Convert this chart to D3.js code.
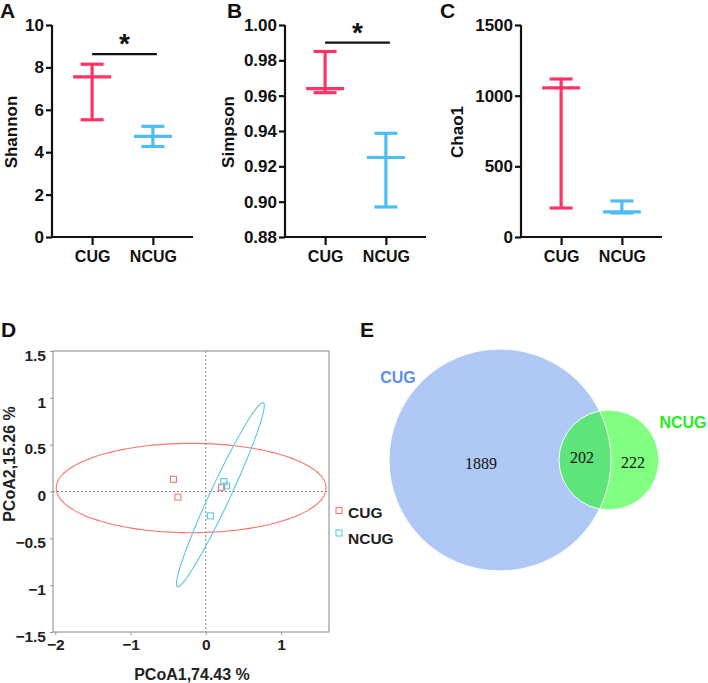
<!DOCTYPE html>
<html>
<head>
<meta charset="utf-8">
<script src="https://cdn.jsdelivr.net/npm/d3@7"></script>
<style>
  html, body { margin: 0; padding: 0; background: #fff; }
  svg { display: block; font-family: "Liberation Sans", Arial, sans-serif; }
</style>
</head>
<body>
<svg id="chart" width="708" height="683"></svg>
<script>
// ---------------- DATA ----------------
const groups = ["CUG", "NCUG"];

// Panel A: Shannon (mean, upper, lower)
const shannonMean  = [7.55, 4.75];
const shannonUpper = [8.15, 5.22];
const shannonLower = [5.53, 4.27];
const shannonTicks = [0, 2, 4, 6, 8, 10];
const shannonSig   = 8.63;

// Panel B: Simpson
const simpsonMean  = [0.964, 0.925];
const simpsonUpper = [0.985, 0.9387];
const simpsonLower = [0.9617, 0.897];
const simpsonTicks = [0.88, 0.90, 0.92, 0.94, 0.96, 0.98, 1.00];
const simpsonSig   = 0.990;

// Panel C: Chao1
const chaoMean  = [1055, 178];
const chaoUpper = [1118, 255];
const chaoLower = [205, 170];
const chaoTicks = [0, 500, 1000, 1500];

// Panel D: PCoA points
const pcoaCUG_x  = [-0.43, -0.37, 0.21];
const pcoaCUG_y  = [0.13, -0.06, 0.045];
const pcoaNCUG_x = [0.24, 0.275, 0.06];
const pcoaNCUG_y = [0.105, 0.06, -0.26];
const pcoaTicksX = [-2, -1, 0, 1];
const pcoaTicksY = [-1.5, -1, -0.5, 0, 0.5, 1, 1.5];
// ellipses: center, major half-axis vector, minor half-axis vector (data units)
const ellipseCUG  = { cx: -0.195, cy: 0.037, ux: 1.792, uy: 0, vx: 0, vy: 0.477 };
const ellipseNCUG = { cx: 0.1935, cy: -0.034, ux: 0.5705, uy: 0.982, vx: 0.121, vy: -0.045 };

// Panel E: Venn counts
const vennOnlyCUG  = 1889;
const vennShared   = 202;
const vennOnlyNCUG = 222;

// ---------------- STYLE ----------------
const RED = "#ff3366", BLUE = "#4dbdf3";
const SALMON = "#f8766d", CYAN = "#5bc8e6";
const groupColor = [RED, BLUE];

const svg = d3.select("#chart");

function panelLetter(txt, x, y) {
  svg.append("text").attr("x", x).attr("y", y)
    .attr("font-size", 21).attr("font-weight", "bold").attr("fill", "#111")
    .text(txt);
}

// ---------------- PANELS A-C ----------------
function dotPanel(opt) {
  const g = svg.append("g");
  const x = d3.scalePoint().domain(groups).range([opt.left, opt.left + 141]).padding(0.66);
  const y = d3.scaleLinear().domain(opt.domain).range([237, 25]);

  const yAxis = d3.axisLeft(y).tickValues(opt.ticks).tickSize(6).tickPadding(2)
    .tickFormat(opt.fmt);
  const ya = g.append("g").attr("transform", `translate(${opt.left},0)`).call(yAxis);
  const xAxis = d3.axisBottom(x).tickSize(8).tickPadding(6);
  const xa = g.append("g").attr("transform", `translate(0,237)`).call(xAxis);
  [ya, xa].forEach(a => {
    a.select(".domain").attr("stroke", "#111").attr("stroke-width", 2.2);
    a.selectAll(".tick line").attr("stroke", "#111").attr("stroke-width", 2.2);
    a.selectAll("text").attr("font-weight", "bold")
      .attr("fill", "#111").attr("font-family", '"Liberation Sans", Arial, sans-serif');
  });
  ya.selectAll("text").attr("font-size", 17);
  xa.selectAll("text").attr("font-size", 16);
  xa.select(".domain").attr("d", `M${opt.left},0H${opt.left + 141}`);
  ya.select(".domain").attr("d", `M0,${y(opt.domain[1])}V237`);

  // y title
  g.append("text")
    .attr("transform", `translate(${opt.titleX},132) rotate(-90)`)
    .attr("text-anchor", "middle").attr("dominant-baseline", "central")
    .attr("font-size", 17).attr("font-weight", "bold").attr("fill", "#111")
    .text(opt.title);

  groups.forEach((grp, i) => {
    const cx = x(grp), c = groupColor[i];
    const gg = g.append("g").attr("stroke", c).attr("stroke-width", 3.2).attr("fill", "none");
    gg.append("line").attr("x1", cx).attr("x2", cx).attr("y1", y(opt.upper[i])).attr("y2", y(opt.lower[i]));
    gg.append("line").attr("x1", cx - 11.5).attr("x2", cx + 11.5).attr("y1", y(opt.upper[i])).attr("y2", y(opt.upper[i]));
    gg.append("line").attr("x1", cx - 11.5).attr("x2", cx + 11.5).attr("y1", y(opt.lower[i])).attr("y2", y(opt.lower[i]));
    gg.append("line").attr("x1", cx - 19).attr("x2", cx + 19).attr("y1", y(opt.mean[i])).attr("y2", y(opt.mean[i]));
  });

  if (opt.sig != null) {
    const x1 = x(groups[0]), x2 = x(groups[1]) + 4, ys = y(opt.sig);
    g.append("line").attr("x1", x1).attr("x2", x2).attr("y1", ys).attr("y2", ys)
      .attr("stroke", "#111").attr("stroke-width", 2.2);
    g.append("text").attr("x", (x1 + x2) / 2).attr("y", ys - 1)
      .attr("text-anchor", "middle").attr("font-size", 28).attr("font-weight", "bold")
      .attr("fill", "#111").text("*");
  }
}

panelLetter("A", 0, 18);
panelLetter("B", 227, 18);
panelLetter("C", 440, 18);

dotPanel({ left: 52, domain: [0, 10], ticks: shannonTicks, fmt: d3.format("d"),
  title: "Shannon", titleX: 11, mean: shannonMean, upper: shannonUpper, lower: shannonLower, sig: shannonSig });
dotPanel({ left: 285, domain: [0.88, 1.00], ticks: simpsonTicks, fmt: d3.format(".2f"),
  title: "Simpson", titleX: 228, mean: simpsonMean, upper: simpsonUpper, lower: simpsonLower, sig: simpsonSig });
dotPanel({ left: 521, domain: [0, 1500], ticks: chaoTicks, fmt: d3.format("d"),
  title: "Chao1", titleX: 457, mean: chaoMean, upper: chaoUpper, lower: chaoLower, sig: null });

// ---------------- PANEL D ----------------
panelLetter("D", 1, 337);
(function () {
  const g = svg.append("g");
  const x = d3.scaleLinear().domain([-2.03, 1.637]).range([53, 329]);
  const y = d3.scaleLinear().domain([-1.5, 1.5]).range([632, 351]);
  const txt = "#222";

  // zero reference lines
  g.append("line").attr("x1", x(0)).attr("x2", x(0)).attr("y1", 351).attr("y2", 632)
    .attr("stroke", "#888").attr("stroke-width", 1).attr("stroke-dasharray", "2,2");
  g.append("line").attr("x1", 53).attr("x2", 329).attr("y1", y(0)).attr("y2", y(0))
    .attr("stroke", "#888").attr("stroke-width", 1).attr("stroke-dasharray", "2,2");

  // box
  g.append("rect").attr("x", 53).attr("y", 351).attr("width", 276).attr("height", 281)
    .attr("fill", "none").attr("stroke", "#999").attr("stroke-width", 1.2);

  const xa = g.append("g").attr("transform", "translate(0,632)")
    .call(d3.axisBottom(x).tickValues(pcoaTicksX).tickSize(3).tickPadding(4).tickFormat(d3.format("d")));
  const ya = g.append("g").attr("transform", "translate(53,0)")
    .call(d3.axisLeft(y).tickValues(pcoaTicksY).tickSize(3).tickPadding(4).tickFormat(d => d3.format("")(d)));
  [xa, ya].forEach(a => {
    a.select(".domain").remove();
    a.selectAll(".tick line").attr("stroke", "#999");
    a.selectAll("text").attr("font-size", 15.5).attr("font-weight", "bold").attr("fill", txt)
      .attr("font-family", '"Liberation Sans", Arial, sans-serif');
  });
  ya.selectAll("text").attr("dy", "0.6em");

  g.append("text").attr("x", 192).attr("y", 680).attr("text-anchor", "middle")
    .attr("font-size", 16).attr("font-weight", "bold").attr("fill", txt).text("PCoA1,74.43 %");
  g.append("text").attr("transform", "translate(9,464) rotate(-90)")
    .attr("text-anchor", "middle").attr("dominant-baseline", "central")
    .attr("font-size", 16).attr("font-weight", "bold").attr("fill", txt).text("PCoA2,15.26 %");

  function ellipsePath(e) {
    const pts = d3.range(0, 361, 3).map(a => {
      const t = a * Math.PI / 180;
      return [x(e.cx + e.ux * Math.cos(t) + e.vx * Math.sin(t)),
              y(e.cy + e.uy * Math.cos(t) + e.vy * Math.sin(t))];
    });
    return d3.line().curve(d3.curveCardinalClosed)(pts.slice(0, -1));
  }
  g.append("path").attr("d", ellipsePath(ellipseCUG)).attr("fill", "none")
    .attr("stroke", SALMON).attr("stroke-width", 1.1);
  g.append("path").attr("d", ellipsePath(ellipseNCUG)).attr("fill", "none")
    .attr("stroke", CYAN).attr("stroke-width", 1.1);

  const s = 6;
  pcoaCUG_x.forEach((v, i) => {
    g.append("rect").attr("x", x(v) - s / 2).attr("y", y(pcoaCUG_y[i]) - s / 2)
      .attr("width", s).attr("height", s).attr("fill", "none").attr("stroke", SALMON).attr("stroke-width", 1.1);
  });
  pcoaNCUG_x.forEach((v, i) => {
    g.append("rect").attr("x", x(v) - s / 2).attr("y", y(pcoaNCUG_y[i]) - s / 2)
      .attr("width", s).attr("height", s).attr("fill", "none").attr("stroke", CYAN).attr("stroke-width", 1.1);
  });

  // legend
  const leg = [["CUG", SALMON, 510.5, 512], ["NCUG", CYAN, 533, 538]];
  leg.forEach(([name, c, sy, ty]) => {
    g.append("rect").attr("x", 336).attr("y", sy - 3).attr("width", 6).attr("height", 6)
      .attr("fill", "none").attr("stroke", c).attr("stroke-width", 1.1);
    g.append("text").attr("x", 348).attr("y", ty).attr("dominant-baseline", "central")
      .attr("font-size", 15.5).attr("font-weight", "bold").attr("fill", txt).text(name);
  });
})();

// ---------------- PANEL E ----------------
panelLetter("E", 360, 337);
(function () {
  const g = svg.append("g");
  const totalCUG = vennOnlyCUG + vennShared;
  const totalNCUG = vennOnlyNCUG + vennShared;
  const r = d3.scaleSqrt().domain([0, totalCUG]).range([0, 111]);
  const rA = r(totalCUG), rB = r(totalNCUG);
  const cy = 460, cxA = 500, cxB = cxA + rA - 2;

  const defs = svg.append("defs");
  defs.append("clipPath").attr("id", "clipA")
    .append("circle").attr("cx", cxA).attr("cy", cy).attr("r", rA);

  g.append("circle").attr("cx", cxA).attr("cy", cy).attr("r", rA).attr("fill", "#b0c8f4");
  g.append("circle").attr("cx", cxB).attr("cy", cy).attr("r", rB).attr("fill", "#80ff80");
  g.append("circle").attr("cx", cxB).attr("cy", cy).attr("r", rB).attr("fill", "#5de57b")
    .attr("clip-path", "url(#clipA)");
  g.append("circle").attr("cx", cxA).attr("cy", cy).attr("r", rA).attr("fill", "none")
    .attr("stroke", "#fff").attr("stroke-width", 1);
  g.append("circle").attr("cx", cxB).attr("cy", cy).attr("r", rB).attr("fill", "none")
    .attr("stroke", "#fff").attr("stroke-width", 1);

  const serif = '"Liberation Serif", "Times New Roman", serif';
  [[vennOnlyCUG, cxA - 19, 463], [vennShared, cxB - 27, 457], [vennOnlyNCUG, cxB + 24, 462]]
    .forEach(([v, tx, ty]) => {
      g.append("text").attr("x", tx).attr("y", ty).attr("text-anchor", "middle")
        .attr("dominant-baseline", "central").attr("font-family", serif)
        .attr("font-size", 16).attr("fill", "#111").text(v);
    });

  g.append("text").attr("x", 398).attr("y", 377).attr("text-anchor", "middle")
    .attr("dominant-baseline", "central").attr("font-size", 16).attr("font-weight", "bold")
    .attr("fill", "#5b8ff0").text("CUG");
  g.append("text").attr("x", 683).attr("y", 422).attr("text-anchor", "middle")
    .attr("dominant-baseline", "central").attr("font-size", 16).attr("font-weight", "bold")
    .attr("fill", "#22ee22").text("NCUG");
})();
</script>
</body>
</html>
